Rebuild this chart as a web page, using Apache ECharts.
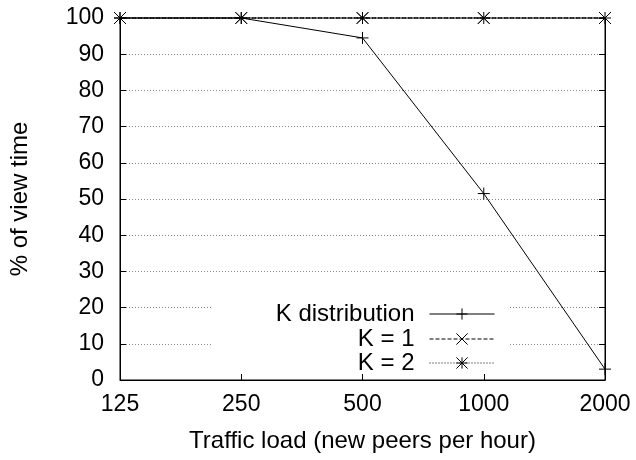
<!DOCTYPE html>
<html>
<head>
<meta charset="utf-8">
<script src="https://cdn.jsdelivr.net/npm/echarts@6/dist/echarts.min.js"></script>
<style>
html,body{margin:0;padding:0;background:#fff;}
#chart{width:636px;height:460px;}
</style>
</head>
<body>
<div id="chart"></div>
<script>
// Data
const categories = ['125', '250', '500', '1000', '2000'];
const kDistribution = [100, 100, 94.5, 51.5, 3];
const kOne = [100, 100, 100, 100, 100];
const kTwo = [100, 100, 100, 100, 100];
const seriesNames = ['K distribution', 'K = 1', 'K = 2'];
const yMin = 0, yMax = 100, yStep = 10;
const xTitle = 'Traffic load (new peers per hour)';
const yTitle = '% of view time';

const FONT = 'Liberation Sans, Arial, Helvetica, sans-serif';
const FS = 24;
const FS_TICK = 23;
const plusPath = 'path://M0,5L10,5M5,0L5,10';
const crossPath = 'path://M0,0L10,10M0,10L10,0';
const starPath = 'path://M0,0L10,10M0,10L10,0M5,0L5,10M0,5L10,5';

const chart = echarts.init(document.getElementById('chart'), null, {renderer: 'canvas'});

function mkLegend(name, top) {
  return {
    data: [name],
    right: 141,
    top: top,
    orient: 'vertical',
    align: 'right',
    padding: 0,
    itemWidth: 65,
    itemHeight: 14,
    selectedMode: false,
    itemStyle: {borderWidth: 1, borderColor: '#000'},
    lineStyle: {width: 1},
    textStyle: {fontFamily: FONT, fontSize: FS, color: '#000', padding: [0, 10, 0, 0]}
  };
}

const option = {
  animation: false,
  backgroundColor: '#fff',
  textStyle: {fontFamily: FONT},
  grid: {left: 117, right: 31, top: 18, bottom: 80, show: true, borderColor: '#000', borderWidth: 1, backgroundColor: 'transparent'},
  graphic: [{
    type: 'rect', left: 212, top: 295, z: 1,
    shape: {width: 297, height: 72},
    style: {fill: '#fff'}
  }],
  legend: [
    mkLegend(seriesNames[0], 302),
    mkLegend(seriesNames[1], 327),
    mkLegend(seriesNames[2], 351)
  ],
  xAxis: {
    type: 'category',
    data: categories,
    boundaryGap: false,
    name: xTitle,
    nameLocation: 'middle',
    nameGap: 49,
    nameTextStyle: {fontFamily: FONT, fontSize: FS, color: '#000'},
    axisLine: {lineStyle: {color: '#000', width: 1}},
    axisTick: {inside: true, length: 6, lineStyle: {color: '#000'}},
    axisLabel: {fontFamily: FONT, fontSize: FS_TICK, color: '#000', margin: 13},
    splitLine: {show: false}
  },
  yAxis: [{
    type: 'value',
    min: yMin, max: yMax, interval: yStep,
    name: yTitle,
    nameLocation: 'middle',
    nameGap: 88,
    nameTextStyle: {fontFamily: FONT, fontSize: FS, color: '#000'},
    axisLine: {show: true, lineStyle: {color: '#000', width: 1}},
    axisTick: {show: true, inside: true, length: 6, lineStyle: {color: '#000'}},
    axisLabel: {fontFamily: FONT, fontSize: FS_TICK, color: '#000', margin: 16},
    splitLine: {show: true, lineStyle: {color: '#888', width: 1, type: [1, 2]}}
  }, {
    type: 'value',
    position: 'right',
    min: yMin, max: yMax, interval: yStep,
    axisLine: {show: true, lineStyle: {color: '#000', width: 1}},
    axisTick: {show: true, inside: true, length: 6, lineStyle: {color: '#000'}},
    axisLabel: {show: false},
    splitLine: {show: false}
  }],
  series: [{
    name: seriesNames[0],
    type: 'line',
    data: kDistribution,
    symbol: plusPath,
    symbolSize: 12,
    showAllSymbol: true,
    clip: false,
    color: '#000',
    lineStyle: {color: '#000', width: 1, type: 'solid'},
    itemStyle: {color: '#000', borderColor: '#000', borderWidth: 1},
    emphasis: {disabled: true},
    z: 3
  }, {
    name: seriesNames[1],
    type: 'line',
    data: kOne,
    symbol: crossPath,
    symbolSize: 11,
    showAllSymbol: true,
    clip: false,
    color: '#000',
    lineStyle: {color: '#000', width: 1, type: [4, 2]},
    itemStyle: {color: '#000', borderColor: '#000', borderWidth: 1},
    emphasis: {disabled: true},
    z: 3
  }, {
    name: seriesNames[2],
    type: 'line',
    data: kTwo,
    symbol: starPath,
    symbolSize: 12,
    showAllSymbol: true,
    clip: false,
    color: '#000',
    lineStyle: {color: '#000', width: 1, type: [1, 2]},
    itemStyle: {color: '#000', borderColor: '#000', borderWidth: 1},
    emphasis: {disabled: true},
    z: 3
  }]
};
chart.setOption(option);
</script>
</body>
</html>
